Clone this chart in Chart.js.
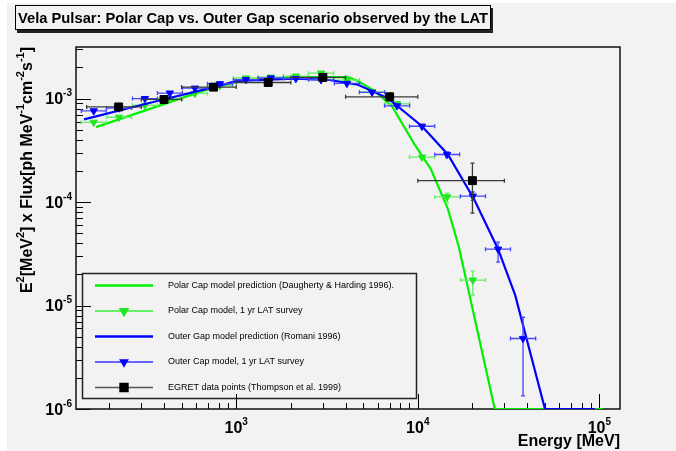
<!DOCTYPE html>
<html>
<head>
<meta charset="utf-8">
<script src="https://cdn.jsdelivr.net/npm/chart.js@4.4.1/dist/chart.umd.min.js"></script>
<style>
  html, body { margin: 0; padding: 0; background: #ffffff; }
  #wrap { width: 676px; height: 451px; }
</style>
</head>
<body>
<div id="wrap"><canvas id="grafico" width="676" height="451"></canvas></div>
<script>
// Textos
const titulo = 'Vela Pulsar: Polar Cap vs. Outer Gap scenario observed by the LAT';
const tituloX = 'Energy [MeV]';
const leyendas = [
  'Polar Cap model prediction (Daugherty & Harding 1996).',
  'Polar Cap model, 1 yr LAT survey',
  'Outer Gap model prediction (Romani 1996)',
  'Outer Cap model, 1 yr LAT survey',
  'EGRET data points (Thompson et al. 1999)'
];
// etiquetas de los ejes: 10^k
const decadasX = [3, 4, 5];
const decadasY = [-6, -5, -4, -3];

// Modelo Polar Cap (linea verde)
const pcModeloE = [169, 754, 1130, 2130, 4120, 4680, 5800, 7200, 9510, 11800, 14650, 16830, 26550, 105000];
const pcModeloF = [5.3e-4, 1.29e-3, 1.51e-3, 1.61e-3, 1.61e-3, 1.48e-3, 1.18e-3, 8.5e-4, 3.7e-4, 2.08e-4, 8.6e-5, 3.7e-5, 1e-6, 1e-6];

// Modelo Outer Gap (linea azul)
const ogModeloE = [145, 336, 754, 1010, 2050, 3200, 4680, 6840, 10550, 14650, 20400, 27700, 34400, 50200, 94600];
const ogModeloF = [6.3e-4, 9.1e-4, 1.29e-3, 1.48e-3, 1.56e-3, 1.52e-3, 1.36e-3, 1.01e-3, 5.4e-4, 2.88e-4, 1.07e-4, 3.5e-5, 1.26e-5, 1e-6, 1e-6];

// Bins de energia de la simulacion LAT (MeV)
const latE   = [164, 226, 314, 431, 592, 813, 1130, 1550, 2130, 2930, 4070, 5600, 7690, 10550, 14500, 20100, 27700, 38000];
const latElo = [140, 193, 268, 368, 505, 694, 964, 1320, 1820, 2500, 3470, 4770, 6560, 9000, 12400, 17200, 23600, 32400];
const latEhi = [192, 265, 368, 505, 694, 954, 1325, 1820, 2500, 3440, 4780, 6570, 9020, 12400, 17000, 23600, 32400, 44600];

// Polar Cap, 1 yr LAT survey
const pcLatF   = [5.9e-4, 6.6e-4, 8.6e-4, 9.9e-4, 1.12e-3, 1.33e-3, 1.58e-3, 1.61e-3, 1.65e-3, 1.76e-3, 1.51e-3, 1.16e-3, 8.9e-4, 2.72e-4, 1.12e-4, 1.76e-5];
const pcLatFlo = [5.8e-4, 6.5e-4, 8.5e-4, 9.7e-4, 1.10e-3, 1.31e-3, 1.56e-3, 1.59e-3, 1.63e-3, 1.73e-3, 1.48e-3, 1.13e-3, 8.6e-4, 2.60e-4, 0.98e-4, 1.26e-5];
const pcLatFhi = [6.0e-4, 6.7e-4, 8.7e-4, 1.01e-3, 1.14e-3, 1.35e-3, 1.60e-3, 1.63e-3, 1.67e-3, 1.79e-3, 1.54e-3, 1.19e-3, 9.2e-4, 2.84e-4, 1.22e-4, 2.15e-5];

// Outer Gap, 1 yr LAT survey
const ogLatF   = [7.6e-4, 8.1e-4, 1.0e-3, 1.13e-3, 1.26e-3, 1.39e-3, 1.52e-3, 1.58e-3, 1.56e-3, 1.52e-3, 1.40e-3, 1.15e-3, 8.5e-4, 5.4e-4, 2.88e-4, 1.14e-4, 3.5e-5, 4.8e-6];
const ogLatFlo = [7.5e-4, 8.0e-4, 0.99e-3, 1.12e-3, 1.25e-3, 1.38e-3, 1.51e-3, 1.57e-3, 1.55e-3, 1.50e-3, 1.38e-3, 1.13e-3, 8.3e-4, 5.2e-4, 2.70e-4, 1.04e-4, 2.63e-5, 1.34e-6];
const ogLatFhi = [7.7e-4, 8.2e-4, 1.01e-3, 1.14e-3, 1.27e-3, 1.40e-3, 1.53e-3, 1.59e-3, 1.57e-3, 1.54e-3, 1.42e-3, 1.17e-3, 8.7e-4, 5.6e-4, 3.06e-4, 1.25e-4, 4.1e-5, 7.7e-6];

// EGRET (Thompson et al. 1999)
const egE   = [225, 400, 750, 1500, 3000, 7000, 20000];
const egElo = [150, 300, 500, 1000, 2000, 4000, 10000];
const egEhi = [300, 500, 1000, 2000, 4000, 10000, 30000];
const egF   = [8.3e-4, 9.8e-4, 1.29e-3, 1.43e-3, 1.60e-3, 1.04e-3, 1.61e-4];
const egFlo = [8.0e-4, 9.5e-4, 1.26e-3, 1.40e-3, 1.55e-3, 0.95e-3, 7.8e-5];
const egFhi = [8.6e-4, 1.01e-3, 1.32e-3, 1.46e-3, 1.65e-3, 1.13e-3, 2.38e-4];

const fondo = '#f2f2f2';
const verde = '#00f000';
const verdeLat = '#22e622';
const verdeBarra = '#66ee66';
const azul = '#0000ff';
const azulBarra = '#4646ff';
const gris = '#555555';
const fuente = '"Liberation Sans", Arial, Helvetica, sans-serif';

function puntos(xs, ys) {
  return ys.map((y, i) => ({ x: xs[i], y: y }));
}

// dibuja texto con superindices: piezas = [[texto, esSup], ...]
function anchoPiezas(c, piezas, t, ts) {
  let w = 0;
  for (const p of piezas) {
    c.font = 'bold ' + (p[1] ? ts : t) + 'px ' + fuente;
    w += c.measureText(p[0]).width;
  }
  return w;
}
function dibujarPiezas(c, piezas, x, y, t, ts, alinear) {
  const w = anchoPiezas(c, piezas, t, ts);
  let cx = x;
  if (alinear === 'center') cx = x - w / 2;
  if (alinear === 'right') cx = x - w;
  c.textAlign = 'left';
  c.textBaseline = 'alphabetic';
  for (const p of piezas) {
    c.font = 'bold ' + (p[1] ? ts : t) + 'px ' + fuente;
    c.fillText(p[0], cx, p[1] ? y - t * 0.5 : y);
    cx += c.measureText(p[0]).width;
  }
}

const marcoPlugin = {
  id: 'marco',
  beforeDraw(chart) {
    const c = chart.ctx;
    c.save();
    c.fillStyle = '#ffffff';
    c.fillRect(0, 0, chart.width, chart.height);
    c.fillStyle = fondo;
    c.fillRect(7, 3, chart.width - 7, chart.height - 3);

    // caja del titulo con sombra
    c.fillStyle = '#222';
    c.fillRect(17, 8, 476, 25);
    c.fillStyle = fondo;
    c.fillRect(15, 5, 476, 25);
    c.strokeStyle = '#000';
    c.lineWidth = 1;
    c.strokeRect(15.5, 5.5, 475, 24);
    c.fillStyle = '#000';
    c.font = 'bold 13px ' + fuente;
    let w = c.measureText(titulo).width;
    const t = 13 * 470 / w;
    c.font = 'bold ' + t.toFixed(2) + 'px ' + fuente;
    c.textBaseline = 'alphabetic';
    c.fillText(titulo, 18, 23);
    c.restore();
  },
  beforeDatasetsDraw(chart) {
    const c = chart.ctx;
    const a = chart.chartArea;
    const xs = chart.scales.x, ys = chart.scales.y;
    c.save();
    c.strokeStyle = '#000';
    c.lineWidth = 1;
    // marcas del eje x (hacia dentro)
    for (let k = 2; k <= 5; k++) {
      for (let m = 1; m <= 9; m++) {
        const v = m * Math.pow(10, k);
        if (v < xs.min || v > xs.max) continue;
        const px = Math.round(xs.getPixelForValue(v)) + 0.5;
        const len = m === 1 ? 15 : 6;
        c.beginPath();
        c.moveTo(px, a.bottom);
        c.lineTo(px, a.bottom - len);
        c.stroke();
      }
    }
    // marcas del eje y
    for (let k = -6; k <= -3; k++) {
      for (let m = 1; m <= 9; m++) {
        const v = m * Math.pow(10, k);
        if (v < ys.min || v > ys.max) continue;
        const py = Math.round(ys.getPixelForValue(v)) + 0.5;
        const len = m === 1 ? 15 : 7;
        c.beginPath();
        c.moveTo(a.left, py);
        c.lineTo(a.left + len, py);
        c.stroke();
      }
    }
    // marco
    c.strokeStyle = '#111';
    c.lineWidth = 1.5;
    c.strokeRect(a.left, a.top, a.right - a.left, a.bottom - a.top);

    // etiquetas
    c.fillStyle = '#000';
    for (const k of decadasX) {
      const px = xs.getPixelForValue(Math.pow(10, k));
      dibujarPiezas(c, [['10', 0], [String(k), 1]], px, 433, 16, 10, 'center');
    }
    for (const k of decadasY) {
      const py = ys.getPixelForValue(Math.pow(10, k));
      dibujarPiezas(c, [['10', 0], [String(k), 1]], 72, py + 5.5, 16, 10, 'right');
    }
    // titulo eje x
    c.font = 'bold 16px ' + fuente;
    c.textAlign = 'right';
    c.fillText(tituloX, a.right, 446);
    // titulo eje y, rotado
    const piezasY = [['E', 0], ['2', 1], ['[MeV', 0], ['2', 1], ['] x Flux[ph MeV', 0], ['-1', 1],
                     ['cm', 0], ['-2', 1], ['s', 0], ['-1', 1], [']', 0]];
    const wy = anchoPiezas(c, piezasY, 16, 11);
    c.save();
    c.translate(32, a.top + wy);
    c.rotate(-Math.PI / 2);
    dibujarPiezas(c, piezasY, 0, 0, 16, 11, 'left');
    c.restore();
    c.restore();
  },
  beforeDatasetDraw(chart, args) {
    const ds = chart.data.datasets[args.index];
    if (!ds.barras) return;
    const b = ds.barras;
    const c = chart.ctx;
    const a = chart.chartArea;
    const xs = chart.scales.x, ys = chart.scales.y;
    c.save();
    c.beginPath();
    c.rect(a.left, a.top, a.right - a.left, a.bottom - a.top);
    c.clip();
    c.strokeStyle = b.color;
    c.lineWidth = 1.3;
    ds.data.forEach((p, i) => {
      const px = xs.getPixelForValue(p.x);
      const py = ys.getPixelForValue(p.y);
      const x0 = xs.getPixelForValue(b.xlo[i]), x1 = xs.getPixelForValue(b.xhi[i]);
      const y0 = ys.getPixelForValue(b.ylo[i]), y1 = ys.getPixelForValue(b.yhi[i]);
      c.beginPath();
      c.moveTo(x0, py); c.lineTo(x1, py);
      c.moveTo(x0, py - 2); c.lineTo(x0, py + 2);
      c.moveTo(x1, py - 2); c.lineTo(x1, py + 2);
      c.moveTo(px, y0); c.lineTo(px, y1);
      c.moveTo(px - 2, y0); c.lineTo(px + 2, y0);
      c.moveTo(px - 2, y1); c.lineTo(px + 2, y1);
      c.stroke();
    });
    c.restore();
  },
  afterDatasetsDraw(chart) {
    const c = chart.ctx;
    c.save();
    c.strokeStyle = '#222';
    c.lineWidth = 1.5;
    c.strokeRect(82.5, 273.5, 334, 125);
    const filas = [285.5, 311, 336.5, 362, 387.5];
    const estilos = [
      { linea: verde, ancho: 2.5 },
      { linea: verdeBarra, ancho: 2, marca: 'triangle', color: verdeLat },
      { linea: azul, ancho: 2.5 },
      { linea: '#3434ff', ancho: 1.5, marca: 'triangle', color: azul },
      { linea: gris, ancho: 1.5, marca: 'rect', color: '#000' }
    ];
    leyendas.forEach((txt, i) => {
      const y = filas[i];
      const e = estilos[i];
      c.strokeStyle = e.linea;
      c.lineWidth = e.ancho;
      c.beginPath();
      c.moveTo(95, y); c.lineTo(153, y);
      c.stroke();
      if (e.marca) {
        c.fillStyle = e.color;
        c.strokeStyle = e.color;
        Chart.helpers.drawPoint(c, {
          pointStyle: e.marca,
          radius: e.marca === 'rect' ? 5.6 : 4.2,
          rotation: e.marca === 'rect' ? 0 : 180,
          borderWidth: 1
        }, 124, y);
      }
      c.fillStyle = '#000';
      c.font = '9px ' + fuente;
      c.textAlign = 'left';
      c.textBaseline = 'middle';
      c.fillText(txt, 168, y);
    });
    c.restore();
  }
};

const ctx = document.getElementById('grafico').getContext('2d');
const grafico = new Chart(ctx, {
  type: 'scatter',
  data: {
    datasets: [
      {
        label: leyendas[0],
        data: puntos(pcModeloE, pcModeloF),
        showLine: true,
        borderColor: verde,
        borderWidth: 2.2,
        pointRadius: 0,
        order: 5
      },
      {
        label: leyendas[1],
        data: puntos(latE, pcLatF),
        pointStyle: 'triangle',
        rotation: 180,
        pointRadius: 4.2,
        backgroundColor: verdeLat,
        borderColor: verdeLat,
        borderWidth: 1,
        barras: { xlo: latElo, xhi: latEhi, ylo: pcLatFlo, yhi: pcLatFhi, color: verdeBarra },
        order: 4
      },
      {
        label: leyendas[2],
        data: puntos(ogModeloE, ogModeloF),
        showLine: true,
        borderColor: azul,
        borderWidth: 2.2,
        pointRadius: 0,
        order: 3
      },
      {
        label: leyendas[3],
        data: puntos(latE, ogLatF),
        pointStyle: 'triangle',
        rotation: 180,
        pointRadius: 4.2,
        backgroundColor: azul,
        borderColor: azul,
        borderWidth: 1,
        barras: { xlo: latElo, xhi: latEhi, ylo: ogLatFlo, yhi: ogLatFhi, color: azulBarra },
        order: 2
      },
      {
        label: leyendas[4],
        data: puntos(egE, egF),
        pointStyle: 'rect',
        pointRadius: 5.6,
        backgroundColor: '#000',
        borderColor: '#000',
        borderWidth: 1,
        barras: { xlo: egElo, xhi: egEhi, ylo: egFlo, yhi: egFhi, color: '#3a3a3a' },
        order: 1
      }
    ]
  },
  options: {
    responsive: false,
    animation: false,
    layout: { padding: { left: 76, top: 47, right: 56, bottom: 42 } },
    plugins: {
      legend: { display: false },
      tooltip: { enabled: false }
    },
    scales: {
      x: { type: 'logarithmic', min: 131, max: 130000, display: false },
      y: { type: 'logarithmic', min: 1e-6, max: 3.15e-3, display: false }
    }
  },
  plugins: [marcoPlugin]
});
</script>
</body>
</html>
